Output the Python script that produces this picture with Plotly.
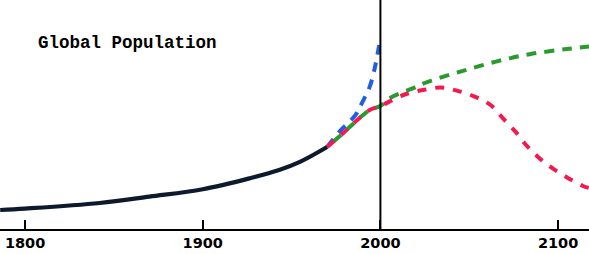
import plotly.graph_objects as go

# Historical population (billions)
hist_years = [1786, 1800, 1842, 1870, 1900, 1927, 1943, 1955, 1970]
hist_pop = [0.95, 1.02, 1.30, 1.62, 1.99, 2.55, 2.95, 3.37, 4.10]

# Hyperbolic projection (blue)
blue_years = [1970, 1977, 1986, 1990, 1994, 1997, 1999.3]
blue_pop = [4.10, 4.87, 5.70, 6.37, 7.12, 8.12, 9.20]

# High projection (green)
green_years = [1970, 1979, 1987, 1994, 2000, 2005, 2017, 2027, 2045, 2065, 2084, 2105, 2117.4]
green_pop = [4.10, 4.79, 5.45, 5.95, 6.15, 6.53, 6.99, 7.37, 7.87, 8.37, 8.74, 9.00, 9.12]

# Low projection (red)
red_years = [1970, 1979, 1987, 1994, 2000, 2013, 2024, 2034, 2043, 2053, 2062, 2069, 2076, 2082, 2089, 2097, 2106, 2114, 2117.4]
red_pop = [4.10, 4.79, 5.45, 5.95, 6.15, 6.70, 6.95, 7.07, 6.92, 6.62, 6.20, 5.53, 4.87, 4.20, 3.58, 3.03, 2.53, 2.15, 2.05]

tick_vals = [1800, 1900, 2000, 2100]
tick_text = ["1800", "1900", "2000", "2100"]
title_text = "Global Population"

fig = go.Figure()
fig.add_trace(go.Scatter(x=blue_years, y=blue_pop, mode="lines",
                         line=dict(color="#1f5fe0", width=4, dash="10px,8px", shape="spline")))
fig.add_trace(go.Scatter(x=green_years, y=green_pop, mode="lines",
                         line=dict(color="#2a9a2e", width=4, dash="0px,8px,10px,0px", shape="spline")))
fig.add_trace(go.Scatter(x=red_years, y=red_pop, mode="lines",
                         line=dict(color="#f5174f", width=4, dash="9px,9px", shape="spline")))
fig.add_trace(go.Scatter(x=hist_years, y=hist_pop, mode="lines",
                         line=dict(color="#0d1a2e", width=4.2, shape="spline")))

fig.add_shape(type="line", xref="x", yref="paper", x0=2000, x1=2000, y0=0, y1=1,
              line=dict(color="black", width=2))

fig.add_annotation(text=title_text, xref="paper", yref="paper",
                   x=36 / 589, y=(229 - 43) / 229, xanchor="left", yanchor="middle",
                   showarrow=False,
                   font=dict(family="Liberation Mono", size=17.5, color="black", weight="bold"))

fig.update_layout(
    width=589, height=254,
    margin=dict(l=0, r=0, t=0, b=25, autoexpand=False),
    paper_bgcolor="white", plot_bgcolor="white",
    showlegend=False,
    xaxis=dict(range=[1785.9, 2117.4], tickvals=tick_vals, ticktext=tick_text,
               ticks="inside", ticklen=9, tickwidth=1.5, tickcolor="black",
               showline=True, linewidth=2, linecolor="black",
               showgrid=False, zeroline=False,
               tickfont=dict(family="DejaVu Sans", size=14.5, color="black", weight="bold")),
    yaxis=dict(range=[0, 11.45], visible=False, showgrid=False, zeroline=False),
)

fig.write_html("out.html", config={"displayModeBar": False},
               post_script="document.body.style.margin='0px';")
